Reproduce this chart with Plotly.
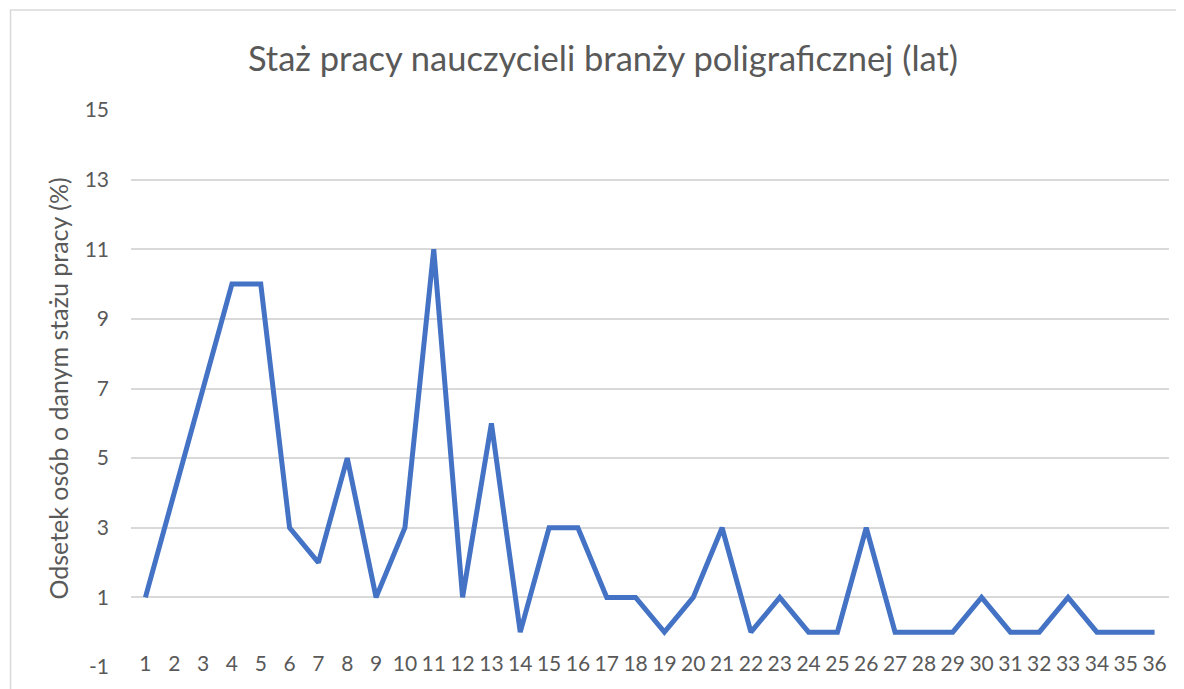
import plotly.graph_objects as go

# Data
years = list(range(1, 37))
share = [1, 4, 7, 10, 10, 3, 2, 5, 1, 3, 11, 1, 6, 0, 3, 3, 1, 1, 0, 1, 3, 0, 1, 0, 0, 3,
         0, 0, 0, 1, 0, 0, 1, 0, 0, 0]
y_ticks = [-1, 1, 3, 5, 7, 9, 11, 13, 15]
y_tick_labels = ["-1", "1", "3", "5", "7", "9", "11", "13", "15"]

title_text = "Staż pracy nauczycieli branży poligraficznej (lat)"
y_title = "Odsetek osób o danym stażu pracy (%)"

FONT = "Lato"
GRAY = "#595959"
GRID = "#d9d9d9"

fig = go.Figure()
fig.add_trace(go.Scatter(
    x=years, y=share, mode="lines",
    line=dict(color="#4472C4", width=5),
    hoverinfo="x+y", showlegend=False,
))

# page body has an 8px margin -> figure coordinates = screen - 8
W, H = 1176, 681
L, R, T, B = 122.6, 14.5, 102, 22.3
pw = W - L - R
ph = H - T - B

fig.update_layout(
    width=W, height=H,
    margin=dict(l=L, r=R, t=T, b=B),
    paper_bgcolor="white", plot_bgcolor="white",
    font=dict(family=FONT, color=GRAY),
    title=dict(text=title_text, font=dict(size=34.5, color=GRAY, family=FONT),
               xref="container", x=(603 - 8) / W, xanchor="center",
               yref="container", y=1 - 51 / H, yanchor="middle"),
    xaxis=dict(range=[0.5, 36.5], tickmode="array", tickvals=years,
               ticktext=[str(v) for v in years], showgrid=False, zeroline=False,
               showline=False, ticks="", tickfont=dict(size=21, color=GRAY),
               ticklabelstandoff=-18, fixedrange=True),
    yaxis=dict(range=[-1, 15], tickmode="array", tickvals=y_ticks,
               ticktext=y_tick_labels,
               showgrid=True, gridcolor=GRID, gridwidth=1.5, zeroline=False,
               showline=False, ticks="", tickfont=dict(size=21, color=GRAY),
               ticklabelstandoff=21,
               title=dict(text=y_title, font=dict(size=25, color=GRAY), standoff=8),
               fixedrange=True),
    shapes=[dict(type="rect", xref="paper", yref="paper",
                 x0=(2 - L) / pw, x1=(1195 - L) / pw,
                 y0=(H - B - 700) / ph, y1=(H - B - 2) / ph,
                 line=dict(color=GRID, width=1.5), fillcolor="rgba(0,0,0,0)",
                 layer="below")],
)

fig.write_html("out.html")
